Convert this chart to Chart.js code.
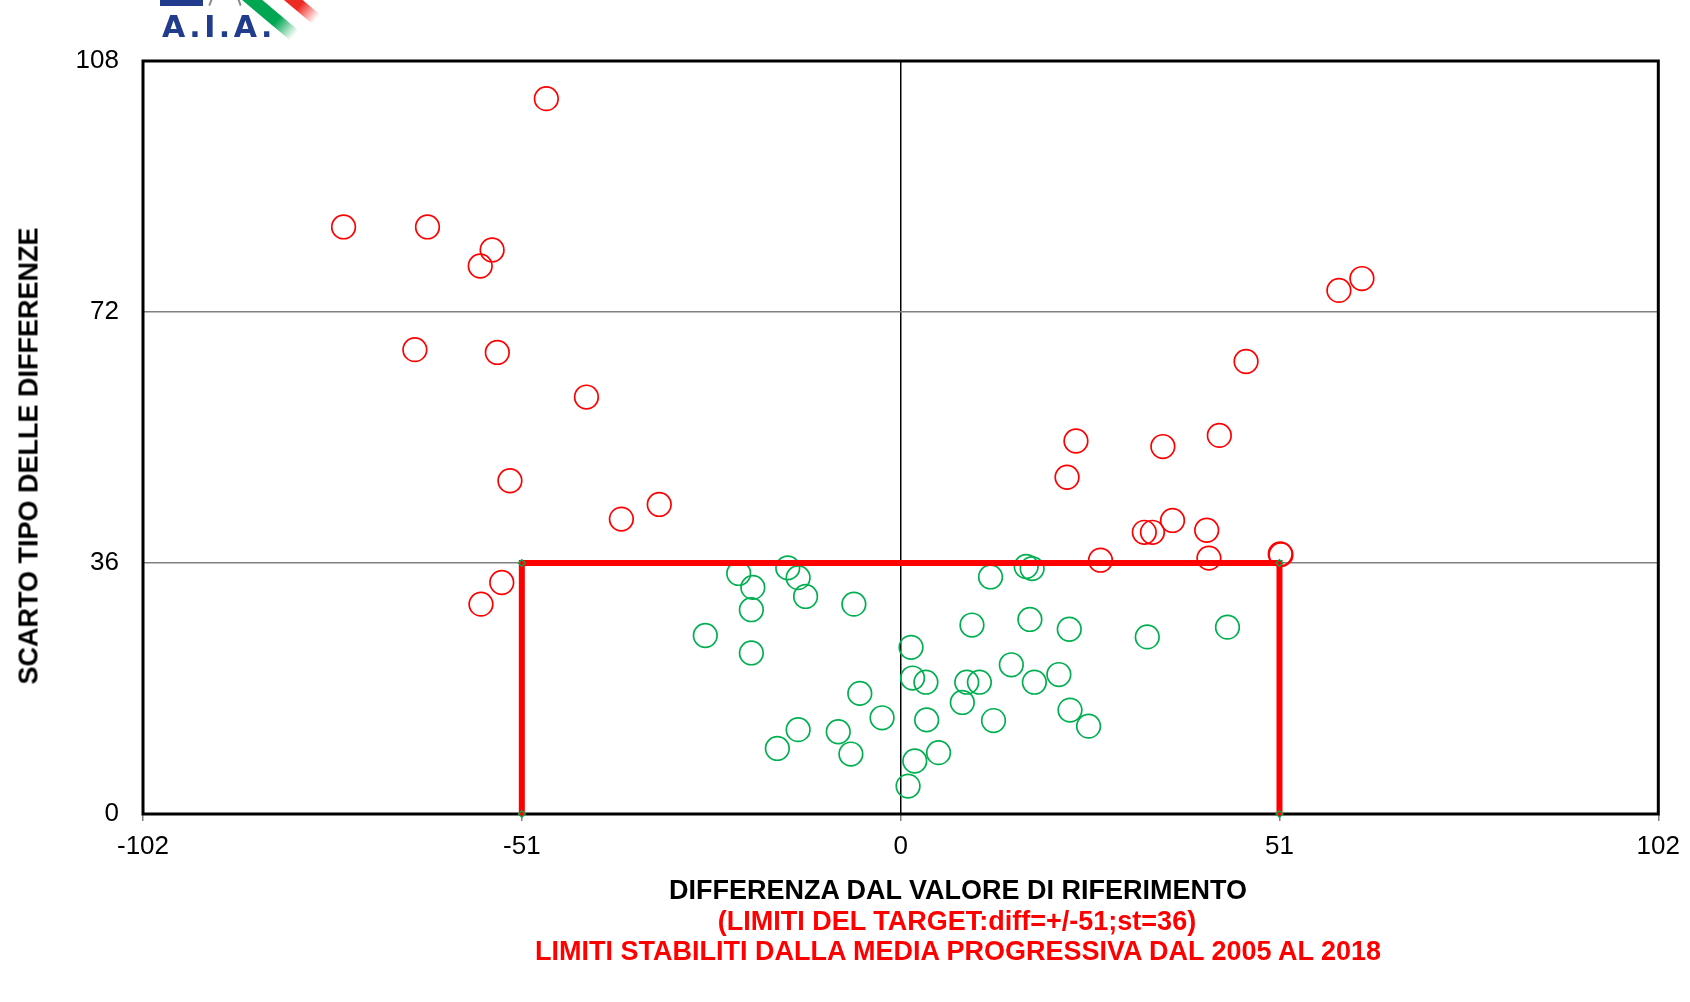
<!DOCTYPE html>
<html><head><meta charset="utf-8">
<script src="https://cdn.jsdelivr.net/npm/chart.js@4.4.0/dist/chart.umd.min.js"></script>
<style>
html,body{margin:0;padding:0;background:#fff;}
#wrap{position:relative;width:1690px;height:1002px;overflow:hidden;background:#fff;}
#c{position:absolute;left:0;top:0;}
.t{position:absolute;font-family:"Liberation Sans",Arial,sans-serif;font-weight:bold;white-space:nowrap;line-height:1;transform:translate(-50%,-50%);}
</style></head><body>
<div id="wrap">
<canvas id="c" width="1690" height="1002" style="width:1690px;height:1002px"></canvas>
<div style="position:absolute;left:160px;top:0;width:43px;height:6px;background:#213c8c"></div>
<div style="position:absolute;left:210px;top:-4px;width:2px;height:10px;background:#8a8a8a;transform:rotate(20deg)"></div>
<div style="position:absolute;left:238px;top:-4px;width:2px;height:10px;background:#8a8a8a;transform:rotate(-20deg)"></div>
<div style="position:absolute;left:248px;top:-12px;width:66px;height:13px;background:linear-gradient(90deg,#00a651 0%,#00a651 65%,rgba(0,166,81,0) 100%);transform:rotate(40deg);transform-origin:0 0;"></div>
<div style="position:absolute;left:274px;top:-24px;width:60px;height:12px;background:linear-gradient(90deg,#ee2a24 0%,#ee2a24 65%,rgba(238,42,36,0) 100%);transform:rotate(40deg);transform-origin:0 0;"></div>
<div class="t" style="left:162px;top:12px;transform:none;font-family:'DejaVu Sans',sans-serif;font-size:30px;color:#213c8c;letter-spacing:3.5px;">A.I.A.</div>
<div class="t" style="left:958px;top:890px;font-size:27px;color:#000;">DIFFERENZA DAL VALORE DI RIFERIMENTO</div>
<div class="t" style="left:957px;top:921px;font-size:27px;color:#ff0000;">(LIMITI DEL TARGET:diff=+/-51;st=36)</div>
<div class="t" style="left:958px;top:951px;font-size:27px;color:#ff0000;">LIMITI STABILITI DALLA MEDIA PROGRESSIVA DAL 2005 AL 2018</div>
<div class="t" style="left:29px;top:456px;font-size:27px;color:#000;transform:translate(-50%,-50%) rotate(-90deg);">SCARTO TIPO DELLE DIFFERENZE</div>
</div>
<script>
// Tick values
const xTicks = [-102, -51, 0, 51, 102];
const yTicks = [0, 36, 72, 108];

// Target limits (diff = +/-51, st = 36)
const targetX = [-51, -51, 51, 51];
const targetY = [0, 36, 36, 0];

// Points outside the target (red)
const redX = [-47.7, -75.0, -63.7, -55.0, -56.6, -65.4, -54.3, -42.3, -52.6, -37.6, -32.5, -53.7, -56.5,
              59.0, 62.1, 46.5, 23.6, 22.4, 35.3, 42.9, 32.8, 33.9, 36.6, 41.2, 41.5, 26.9, 51.1, 51.2];
const redY = [102.6, 84.2, 84.2, 80.9, 78.6, 66.6, 66.2, 59.8, 47.8, 42.3, 44.4, 33.2, 30.1,
              75.1, 76.8, 64.9, 53.5, 48.3, 52.7, 54.3, 40.4, 40.4, 42.1, 40.7, 36.7, 36.4, 37.3, 37.2];

// Points inside the target (green)
const greenX = [-21.8, -19.9, -15.2, -13.8, -12.8, -6.3, -20.1, -26.3, -20.1, -5.5, -2.5, -13.8, -16.6, -8.4, -6.7,
                1.4, 1.6, 3.4, 3.5, 5.1, 1.9, 1.0, 12.1, 16.9, 17.7, 9.6, 17.4, 22.7, 33.2, 8.9, 10.6, 14.9, 18.0,
                21.3, 8.3, 12.5, 22.8, 25.3, 44.0];
const greenY = [34.5, 32.5, 35.3, 33.9, 31.2, 30.1, 29.3, 25.6, 23.1, 17.3, 13.8, 12.1, 9.4, 11.8, 8.6,
                23.9, 19.5, 18.9, 13.5, 8.8, 7.6, 4.0, 34.0, 35.5, 35.2, 27.1, 27.9, 26.5, 25.4, 18.9, 18.9, 21.4, 18.9,
                20.0, 16.0, 13.4, 14.9, 12.6, 26.8];

const pts = (xs, ys) => xs.map((x, i) => ({x: x, y: ys[i]}));

const frame = {
  id: 'frame',
  beforeDatasetsDraw(chart) {
    const a = chart.chartArea, c = chart.ctx;
    c.save();
    c.strokeStyle = '#000';
    c.lineWidth = 3;
    c.strokeRect(a.left, a.top, a.right - a.left, a.bottom - a.top);
    c.restore();
  }
};

const tickFont = {family: '"Liberation Sans", Arial, sans-serif', size: 26};

new Chart(document.getElementById('c').getContext('2d'), {
  type: 'scatter',
  data: {
    datasets: [
      {
        type: 'line', label: 'target', data: pts(targetX, targetY),
        borderColor: '#ff0000', borderWidth: 6, tension: 0, fill: false, clip: false,
        pointStyle: 'rectRot', pointRadius: 3.5, pointBorderColor: '#00b050',
        pointBackgroundColor: '#ff0000', pointBorderWidth: 1.2
      },
      {
        label: 'fuori', data: pts(redX, redY),
        pointRadius: 11.8, pointBorderWidth: 1.7, borderColor: '#ff0000', backgroundColor: 'rgba(0,0,0,0)'
      },
      {
        label: 'dentro', data: pts(greenX, greenY),
        pointRadius: 11.8, pointBorderWidth: 1.7, borderColor: '#00b050', backgroundColor: 'rgba(0,0,0,0)'
      }
    ]
  },
  options: {
    responsive: false, animation: false, devicePixelRatio: 1,
    layout: {padding: {left: 0, top: 61, right: 31, bottom: 0}},
    plugins: {legend: {display: false}, tooltip: {enabled: false}},
    scales: {
      x: {
        type: 'linear', min: -102, max: 102,
        afterBuildTicks: s => { s.ticks = xTicks.map(v => ({value: v})); },
        afterFit: s => { s.height = 188; },
        border: {display: false},
        grid: {
          color: c => (c.tick && c.tick.value === 0) ? '#000' : 'rgba(0,0,0,0)',
          lineWidth: 1.5, tickLength: 7, tickColor: '#808080', tickWidth: 1.5
        },
        ticks: {color: '#000', font: tickFont, padding: 10, maxRotation: 0, autoSkip: false}
      },
      y: {
        type: 'linear', min: 0, max: 108,
        afterBuildTicks: s => { s.ticks = yTicks.map(v => ({value: v})); },
        afterFit: s => { s.width = 143; },
        border: {display: false},
        grid: {
          color: c => (c.tick && (c.tick.value === 36 || c.tick.value === 72)) ? '#808080' : 'rgba(0,0,0,0)',
          lineWidth: 1.5, drawTicks: false
        },
        ticks: {color: '#000', font: tickFont, padding: 24, autoSkip: false}
      }
    }
  },
  plugins: [frame]
});
</script>
</body></html>
